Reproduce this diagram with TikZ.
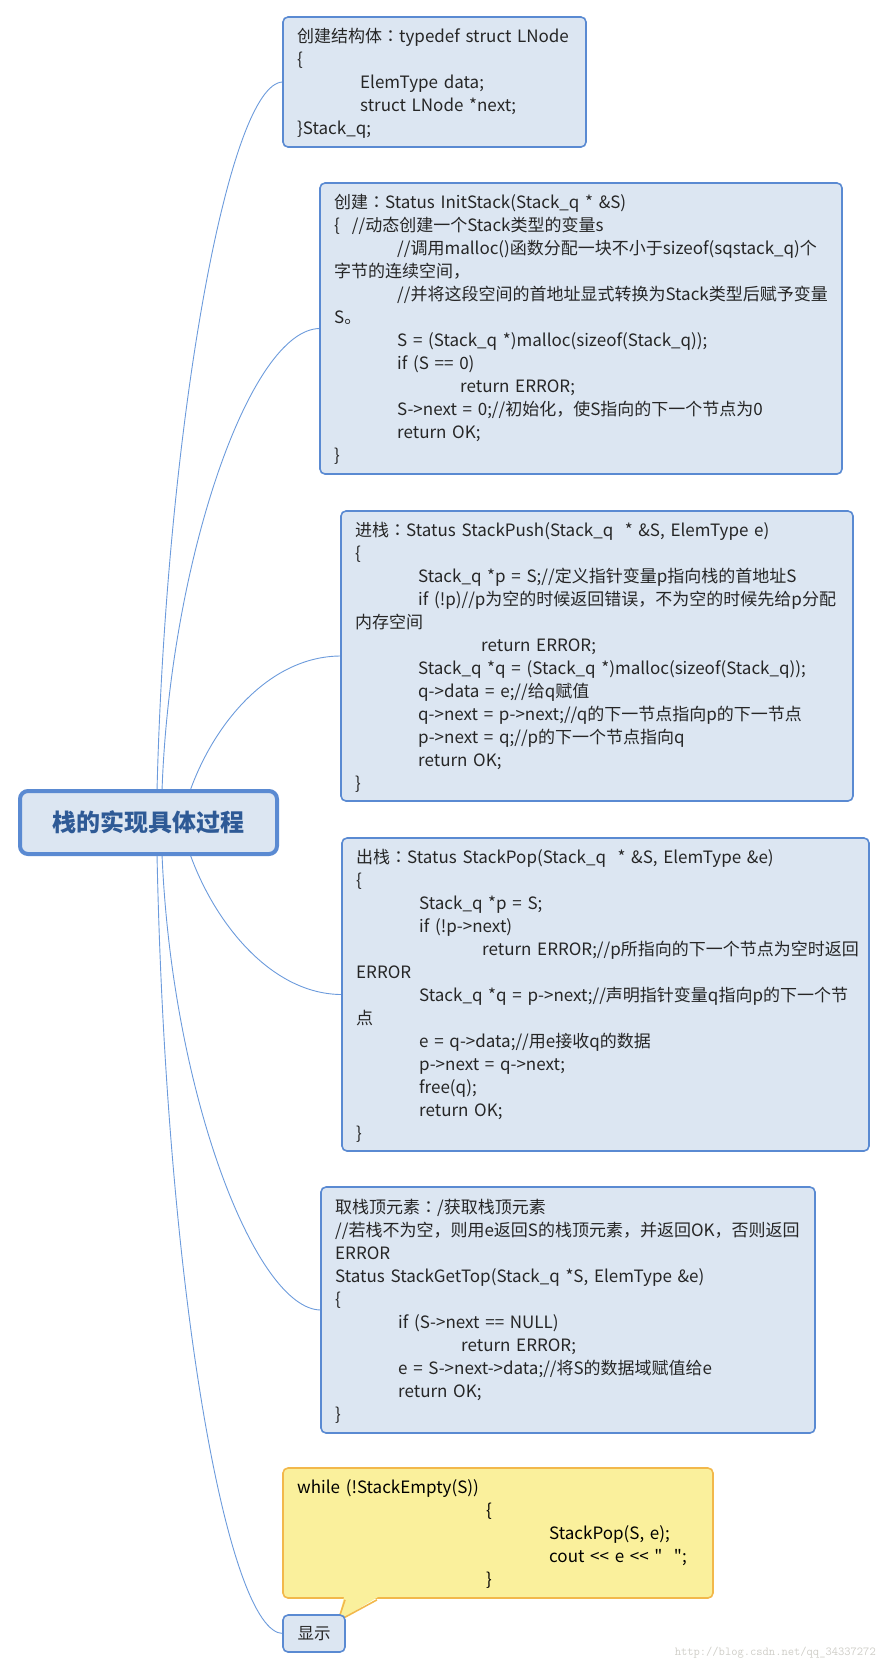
\documentclass[tikz,border=0pt]{standalone}
\usepackage{fontspec}
\newfontfamily\cjk{Noto Sans CJK SC}[WordSpace=1.5]
\newfontfamily\cjktc{Noto Sans CJK TC}
\usetikzlibrary{calc,backgrounds}
\definecolor{boxfill}{HTML}{DCE6F2}
\definecolor{boxline}{HTML}{5A8AD2}
\definecolor{txt}{HTML}{262626}
\definecolor{ctxt}{HTML}{2E5A96}
\definecolor{yfill}{HTML}{FAF09C}
\definecolor{yline}{HTML}{F2B84B}
\definecolor{connc}{HTML}{6C9BDC}
\definecolor{wmc}{HTML}{CFCEC8}
\newcommand\tb{\hspace*{63pt}}
\newcommand\fcol{{\cjktc ：}}
\begin{document}
\begin{tikzpicture}[x=1pt,y=-1pt,
  codebox/.style={draw=boxline, fill=boxfill, line width=1.6pt, rounded corners=5pt,
    anchor=north west, inner sep=0pt, outer sep=0pt},
  yellowbox/.style={draw=yline, fill=yfill, line width=1.6pt, rounded corners=5pt,
    anchor=north west, inner sep=0pt, outer sep=0pt},
  codetext/.style={anchor=west, inner sep=0pt, align=left, text=txt,
    font=\cjk\fontsize{17}{23}\selectfont},
  connector/.style={draw=connc, line width=0.9pt}
]
\useasboundingbox (0,0) rectangle (887,1671);

% central node
\node[draw=boxline, fill=boxfill, line width=4pt, rounded corners=8pt,
  minimum width=257pt, minimum height=63pt, inner sep=0pt, outer sep=0pt,
  text=ctxt, font=\cjk\bfseries\fontsize{24}{28}\selectfont] (c) at (148.5,822.5) {栈的实现具体过程};

% boxes
\node[codebox, minimum width=303pt, minimum height=130pt] (b1) at (283,17) {};
\node[codetext] (b1t) at ([xshift=14pt,yshift=-1.5pt]b1.west) {创建结构体\fcol typedef struct LNode\\
\{\\
\tb ElemType data;\\
\tb struct LNode *next;\\
\}Stack\_q;};

\node[codebox, minimum width=522pt, minimum height=291pt] (b2) at (320,183) {};
\node[codetext] (b2t) at ([xshift=14pt,yshift=-1pt]b2.west) {创建\fcol Status InitStack(Stack\_q * \&S)\\
\{\hspace{12pt}//动态创建一个Stack类型的变量s\\
\tb //调用malloc()函数分配一块不小于sizeof(sqstack\_q)个\\
字节的连续空间，\\
\tb //并将这段空间的首地址显式转换为Stack类型后赋予变量\\
S。\\
\tb S = (Stack\_q *)malloc(sizeof(Stack\_q));\\
\tb if (S == 0)\\
\tb\tb return ERROR;\\
\tb S->next = 0;//初始化，使S指向的下一个节点为0\\
\tb return OK;\\
\}};

\node[codebox, minimum width=512pt, minimum height=290pt] (b3) at (341,511) {};
\node[codetext] (b3t) at ([xshift=14pt,yshift=-1pt]b3.west) {进栈\fcol Status StackPush(Stack\_q\ \ * \&S, ElemType e)\\
\{\\
\tb Stack\_q *p = S;//定义指针变量p指向栈的首地址S\\
\tb if (!p)//p为空的时候返回错误，不为空的时候先给p分配\\
内存空间\\
\tb\tb return ERROR;\\
\tb Stack\_q *q = (Stack\_q *)malloc(sizeof(Stack\_q));\\
\tb q->data = e;//给q赋值\\
\tb q->next = p->next;//q的下一节点指向p的下一节点\\
\tb p->next = q;//p的下一个节点指向q\\
\tb return OK;\\
\}};

\node[codebox, minimum width=527pt, minimum height=313pt] (b4) at (342,838) {};
\node[codetext] (b4t) at ([xshift=14pt,yshift=-1pt]b4.west) {出栈\fcol Status StackPop(Stack\_q\ \ * \&S, ElemType \&e)\\
\{\\
\tb Stack\_q *p = S;\\
\tb if (!p->next)\\
\tb\tb return ERROR;//p所指向的下一个节点为空时返回\\
ERROR\\
\tb Stack\_q *q = p->next;//声明指针变量q指向p的下一个节\\
点\\
\tb e = q->data;//用e接收q的数据\\
\tb p->next = q->next;\\
\tb free(q);\\
\tb return OK;\\
\}};

\node[codebox, minimum width=494pt, minimum height=246pt] (b5) at (321,1187) {};
\node[codetext] (b5t) at ([xshift=14pt,yshift=-1pt]b5.west) {取栈顶元素\fcol /获取栈顶元素\\
//若栈不为空，则用e返回S的栈顶元素，并返回OK，否则返回\\
ERROR\\
Status StackGetTop(Stack\_q *S, ElemType \&e)\\
\{\\
\tb if (S->next == NULL)\\
\tb\tb return ERROR;\\
\tb e = S->next->data;//将S的数据域赋值给e\\
\tb return OK;\\
\}};

% yellow callout
\node[yellowbox, minimum width=430pt, minimum height=130pt] (y) at (283,1468) {};
\fill[yfill] (344,1597) -- (378,1597) -- (338,1621) -- cycle;
\draw[yline, line width=1.6pt, line join=round] (345,1599.8) -- (338,1621) -- (377,1599.8);
\node[codetext, text=black] (yt) at ([xshift=14pt,yshift=-1pt]y.west) {while (!StackEmpty(S))\\
\tb\tb\tb\{\\
\tb\tb\tb\tb StackPop(S, e);\\
\tb\tb\tb\tb cout << e << "\ \ ";\\
\tb\tb\tb\}};

\node[codebox, minimum width=62pt, minimum height=37pt] (d) at (283,1615) {};
\node[inner sep=0pt, text=txt, font=\cjk\fontsize{16.5}{20}\selectfont] (dt) at (d.center) {显示};

% watermark
\node[anchor=base east, inner sep=0pt, text=wmc, font=\ttfamily\fontsize{12.2}{13}\selectfont] (wm) at (876,1655) {http://blog.csdn.net/qq\_34337272};

% connectors
\begin{scope}[on background layer]
\draw[connector] ([xshift=8.5pt]c.north) .. controls +(9,-360) and +(-55,0) .. (b1.west);
\draw[connector] ([xshift=13.5pt]c.north) .. controls +(8,-230) and +(-70,0) .. (b2.west);
\draw[connector] ([xshift=41.5pt]c.north) .. controls +(25,-70) and +(-70,0) .. (b3.west);
\draw[connector] ([xshift=41.5pt]c.south) .. controls +(25,70) and +(-70,0) .. (b4.west);
\draw[connector] ([xshift=13.5pt]c.south) .. controls +(10,240) and +(-65,0) .. (b5.west);
\draw[connector] ([xshift=8.5pt]c.south) .. controls +(9,440) and +(-55,0) .. (d.west);
\end{scope}
\end{tikzpicture}
\end{document}
